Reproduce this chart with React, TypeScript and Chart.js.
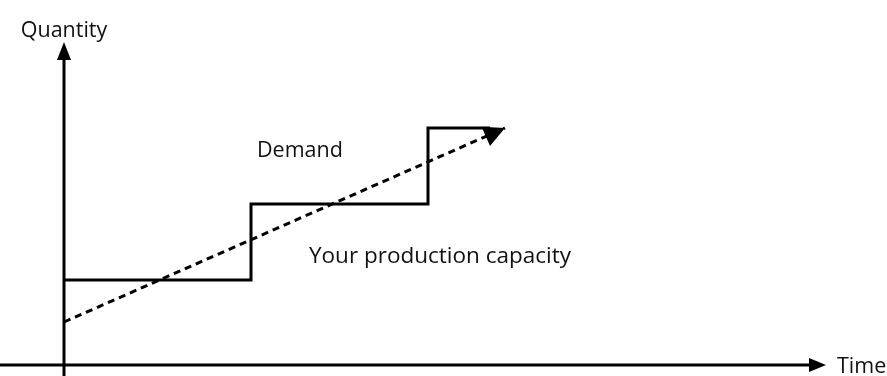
import React, { useEffect, useRef } from "react";
import { Chart, registerables } from "chart.js";

Chart.register(...registerables);

// Production capacity (step line): time points and capacity levels
const capacityTime = [0, 9.35, 18.2, 21.3];
const capacityLevel = [4.25, 8.05, 11.85, 11.85];

// Demand (dashed trend with arrow)
const demandTime = [0, 22.05];
const demandLevel = [2.15, 11.85];

// Axis ranges
const timeMin = -3.2;
const timeMax = 41.15;
const quantityMin = -0.55;
const quantityMax = 18.25;
const timeAxisEnd = 38.1;
const quantityAxisEnd = 16.15;

// Texts
const axisTitleY = "Quantity";
const axisTitleX = "Time";
const demandLabel = "Demand";
const capacityLabel = "Your production capacity";

const FONT = '"Open Sans", "DejaVu Sans", sans-serif';

function arrowHead(ctx: CanvasRenderingContext2D, fx: number, fy: number, tx: number, ty: number, len: number, half: number) {
  const a = Math.atan2(ty - fy, tx - fx);
  const bx = tx - len * Math.cos(a);
  const by = ty - len * Math.sin(a);
  const px = -Math.sin(a) * half;
  const py = Math.cos(a) * half;
  ctx.beginPath();
  ctx.moveTo(tx, ty);
  ctx.lineTo(bx + px, by + py);
  ctx.lineTo(bx - px, by - py);
  ctx.closePath();
  ctx.fill();
}

const sketchPlugin = {
  id: "sketch",
  beforeDatasetsDraw(chart: any) {
    const { ctx, scales, chartArea } = chart;
    const xs = scales.x;
    const ys = scales.y;
    const ox = xs.getPixelForValue(0);
    const oy = ys.getPixelForValue(0);
    const xEnd = xs.getPixelForValue(timeAxisEnd);
    const yEnd = ys.getPixelForValue(quantityAxisEnd);
    ctx.save();
    ctx.strokeStyle = "#000";
    ctx.fillStyle = "#000";
    ctx.lineWidth = 3;
    ctx.beginPath();
    ctx.moveTo(chartArea.left, oy);
    ctx.lineTo(xEnd - 10, oy);
    ctx.stroke();
    ctx.beginPath();
    ctx.moveTo(ox, chartArea.bottom);
    ctx.lineTo(ox, yEnd + 10);
    ctx.stroke();
    arrowHead(ctx, ox - 20, oy, xEnd, oy, 17, 7);
    arrowHead(ctx, ox, yEnd + 20, ox, yEnd, 18, 7);
    ctx.restore();
  },
  afterDatasetsDraw(chart: any) {
    const { ctx, scales } = chart;
    const xs = scales.x;
    const ys = scales.y;
    const ox = xs.getPixelForValue(0);
    const oy = ys.getPixelForValue(0);
    const xEnd = xs.getPixelForValue(timeAxisEnd);
    const yEnd = ys.getPixelForValue(quantityAxisEnd);
    ctx.save();
    ctx.fillStyle = "#000";
    const n = demandTime.length;
    const fx = xs.getPixelForValue(demandTime[n - 2]);
    const fy = ys.getPixelForValue(demandLevel[n - 2]);
    const tx = xs.getPixelForValue(demandTime[n - 1]);
    const ty = ys.getPixelForValue(demandLevel[n - 1]);
    arrowHead(ctx, fx, fy, tx, ty, 21, 10.5);

    ctx.fillStyle = "#111";
    ctx.textBaseline = "alphabetic";
    ctx.font = `21.5px ${FONT}`;
    ctx.textAlign = "center";
    ctx.fillText(axisTitleY, ox, yEnd - 5);
    ctx.textAlign = "left";
    ctx.fillText(axisTitleX, xEnd + 11, oy + 7.5);
    ctx.fillText(demandLabel, 257, 157);
    ctx.font = `22.5px ${FONT}`;
    ctx.fillText(capacityLabel, 309, 263);
    ctx.restore();
  },
};

export default function App() {
  const ref = useRef<HTMLCanvasElement | null>(null);
  useEffect(() => {
    if (!ref.current) return;
    const chart = new Chart(ref.current, {
      type: "line",
      data: {
        datasets: [
          {
            label: capacityLabel,
            data: capacityTime.map((t, i) => ({ x: t, y: capacityLevel[i] })),
            borderColor: "#000",
            borderWidth: 3,
            stepped: "before",
            pointRadius: 0,
            fill: false,
          },
          {
            label: demandLabel,
            data: demandTime.map((t, i) => ({ x: t, y: demandLevel[i] })),
            borderColor: "#000",
            borderWidth: 3,
            borderDash: [7, 5],
            pointRadius: 0,
            fill: false,
          },
        ],
      },
      options: {
        animation: false,
        responsive: false,
        layout: { padding: 0 },
        scales: {
          x: { type: "linear", min: timeMin, max: timeMax, display: false },
          y: { type: "linear", min: quantityMin, max: quantityMax, display: false },
        },
        plugins: { legend: { display: false }, tooltip: { enabled: false } },
      },
      plugins: [sketchPlugin],
    } as any);
    return () => chart.destroy();
  }, []);
  return (
    <div style={{ position: "absolute", left: 0, top: 0, width: 887, height: 376, background: "#fff" }}>
      <canvas ref={ref} width={887} height={376} />
    </div>
  );
}
